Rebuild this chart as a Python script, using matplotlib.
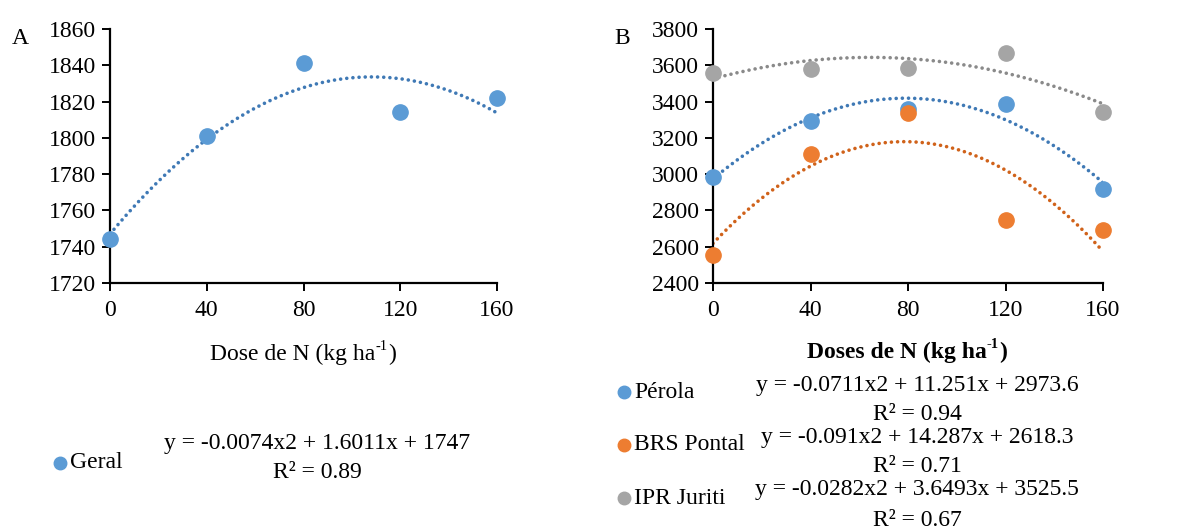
import numpy as np
import matplotlib.pyplot as plt

plt.rcParams["font.family"] = ["Liberation Serif", "DejaVu Serif"]

# ── Data ────────────────────────────────────────────────────────
doses = [0, 40, 80, 120, 160]
geral = [1744, 1801, 1841, 1814, 1822]
perola = [2985, 3295, 3360, 3385, 2920]
pontal = [2555, 3110, 3335, 2745, 2690]
juriti = [3555, 3580, 3585, 3665, 3340]

# trendline coefficients (a, b, c) -> y = a x^2 + b x + c
coef_geral = (-0.0074, 1.6011, 1747)
coef_perola = (-0.0711, 11.251, 2973.6)
coef_pontal = (-0.091, 14.287, 2618.3)
coef_juriti = (-0.0282, 3.6493, 3525.5)

eq_geral = ("y = -0.0074x2 + 1.6011x + 1747", "R² = 0.89")
eq_perola = ("y = -0.0711x2 + 11.251x + 2973.6", "R² = 0.94")
eq_pontal = ("y = -0.091x2 + 14.287x + 2618.3", "R² = 0.71")
eq_juriti = ("y = -0.0282x2 + 3.6493x + 3525.5", "R² = 0.67")

BLUE = "#5B9BD5"
ORANGE = "#ED7D31"
GRAY = "#A5A5A5"
W, H = 1194, 531
FS = 17

fig = plt.figure(figsize=(W / 100, H / 100), dpi=100)
renderer = fig.canvas.get_renderer()


def px(x, y):
    return x / W, 1 - y / H


def setup(ax, ylim, yticks):
    ax.set_xlim(0, 160)
    ax.set_ylim(*ylim)
    ax.set_xticks(doses)
    ax.set_yticks(yticks)
    for s in ["top", "right"]:
        ax.spines[s].set_visible(False)
    for s in ["left", "bottom"]:
        ax.spines[s].set_linewidth(1.6)
    ax.tick_params(direction="out", length=6, width=1.4, labelsize=FS, pad=4)
    ax.tick_params(axis="x", pad=6)


def trend(ax, coef, color):
    xs = np.linspace(0, 160, 300)
    a, b, c = coef
    ax.plot(xs, a * xs**2 + b * xs + c, linestyle=(0, (0.01, 1.7)),
            color=color, linewidth=2.6, dash_capstyle="round", zorder=2)


def label_sup(xc, yc, weight="normal"):
    # "Dose(s) de N (kg ha" + superscript "-1" + ")" centred on xc
    parts = [(main_txt[weight], FS, 0), ("-1", FS * 0.62, 7), (")", FS, 0)]
    widths = []
    for s, fs, _ in parts:
        t = fig.text(0, 0, s, fontsize=fs, fontweight=weight)
        widths.append(t.get_window_extent(renderer).width)
        t.remove()
    x = xc - sum(widths) / 2
    for (s, fs, dy), w in zip(parts, widths):
        fig.text(x / W, 1 - (yc - dy) / H, s, fontsize=fs, fontweight=weight,
                 ha="left", va="center")
        x += w


main_txt = {"normal": "Dose de N (kg ha", "bold": "Doses de N (kg ha"}

# ── Panel A ─────────────────────────────────────────────────────
axA = fig.add_axes([110 / W, 1 - 283 / H, (497 - 110) / W, (283 - 29) / H])
setup(axA, (1720, 1860), range(1720, 1861, 20))
axA.plot(doses, geral, "o", color=BLUE, markersize=11, zorder=3, clip_on=False)
trend(axA, coef_geral, "#3F79B5")

label_sup(303, 354)
fig.text(*px(20, 38), "A", ha="center", va="center", fontsize=FS)

# legend A
fig.lines.append(plt.Line2D([60 / W], [1 - 463 / H], marker="o", color=BLUE,
                            markersize=9, transform=fig.transFigure, linestyle=""))
fig.text(*px(70, 463), "Geral", ha="left", va="center", fontsize=FS)
fig.text(*px(317, 443), eq_geral[0], ha="center", va="center", fontsize=FS)
fig.text(*px(317, 473), eq_geral[1], ha="center", va="center", fontsize=FS)

# ── Panel B ─────────────────────────────────────────────────────
axB = fig.add_axes([713 / W, 1 - 283 / H, (1103 - 713) / W, (283 - 29) / H])
setup(axB, (2400, 3800), range(2400, 3801, 200))
for vals, coef, col, tcol in [(perola, coef_perola, BLUE, "#3F79B5"),
                              (pontal, coef_pontal, ORANGE, "#D0621A"),
                              (juriti, coef_juriti, GRAY, "#8A8A8A")]:
    axB.plot(doses, vals, "o", color=col, markersize=11, zorder=3, clip_on=False)
    trend(axB, coef, tcol)

label_sup(907, 352, weight="bold")
fig.text(*px(622, 38), "B", ha="center", va="center", fontsize=FS)

# legend B
names = ["Pérola", "BRS Pontal", "IPR Juriti"]
cols = [BLUE, ORANGE, GRAY]
eqs = [eq_perola, eq_pontal, eq_juriti]
leg_y = [392, 445, 498]
eq_y = [(385, 415), (437, 467), (490, 520)]
for name, col, eq, ly, (e1, e2) in zip(names, cols, eqs, leg_y, eq_y):
    fig.lines.append(plt.Line2D([624 / W], [1 - ly / H], marker="o", color=col,
                                markersize=9, transform=fig.transFigure, linestyle=""))
    fig.text(*px(634, ly), name, ha="left", va="center", fontsize=FS)
    fig.text(*px(917, e1), eq[0], ha="center", va="center", fontsize=FS)
    fig.text(*px(917, e2), eq[1], ha="center", va="center", fontsize=FS)

plt.savefig("out.png", dpi=100)
